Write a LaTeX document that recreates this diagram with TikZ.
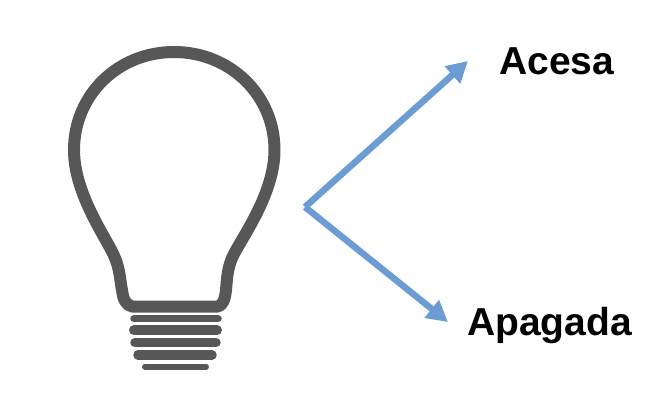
\documentclass[tikz,border=0pt]{standalone}
\usepackage{fontspec}
\setmainfont{Liberation Sans}
\definecolor{bulbgray}{rgb}{0.34,0.34,0.34}
\definecolor{arrowblue}{rgb}{0.42,0.61,0.83}
\usetikzlibrary{positioning}
\usetikzlibrary{arrows.meta}
\tikzset{
  rotulo/.style={inner sep=0pt, font=\fontsize{39}{40}\selectfont\bfseries},
  seta/.style={draw=arrowblue, line width=6.5pt, -{Triangle[length=21pt,width=22pt]}},
  rosca/.style={draw=bulbgray, line cap=round},
}

\begin{document}
\begin{tikzpicture}[x=1pt,y=-1pt]
  \useasboundingbox (0,0) rectangle (662,420);
  % bulbo
  \draw[bulbgray, line width=12pt, line join=round] (217,306.7)
    .. controls (223,306) and (225,299) .. (226,290)
    .. controls (227,280) and (227,270) .. (232,258)
    .. controls (240,240) and (274.5,195) .. (274.5,150)
    .. controls (274.5,95) and (230,52) .. (174,52)
    .. controls (118,52) and (74,95) .. (74,150)
    .. controls (74,195) and (108,240) .. (115,258)
    .. controls (120,270) and (120,280) .. (122,290)
    .. controls (123,299) and (126,306) .. (133,306.7) -- cycle;
  % rosca
  \foreach \xa/\xb/\ya/\wa in {134/218/318.7/7.5, 134/217/330.3/10, 135/216/342.7/9.5, 138/212/355/9.5, 145/206/366.7/6}
    \draw[rosca, line width=\wa pt] (\xa,\ya) -- (\xb,\ya);
  % setas
  \coordinate (origem) at (305,207);
  \coordinate (tipacesa) at (468,61);
  \coordinate (tipapagada) at (448,322);
  \node[rotulo, right=31pt of tipacesa] (acesa) {Acesa};
  \node[rotulo, right=19pt of tipapagada, yshift=-4pt] (apagada) {Apagada};
  \draw[seta] (origem) -- (tipacesa);
  \draw[seta] (origem) -- (tipapagada);
\end{tikzpicture}
\end{document}
